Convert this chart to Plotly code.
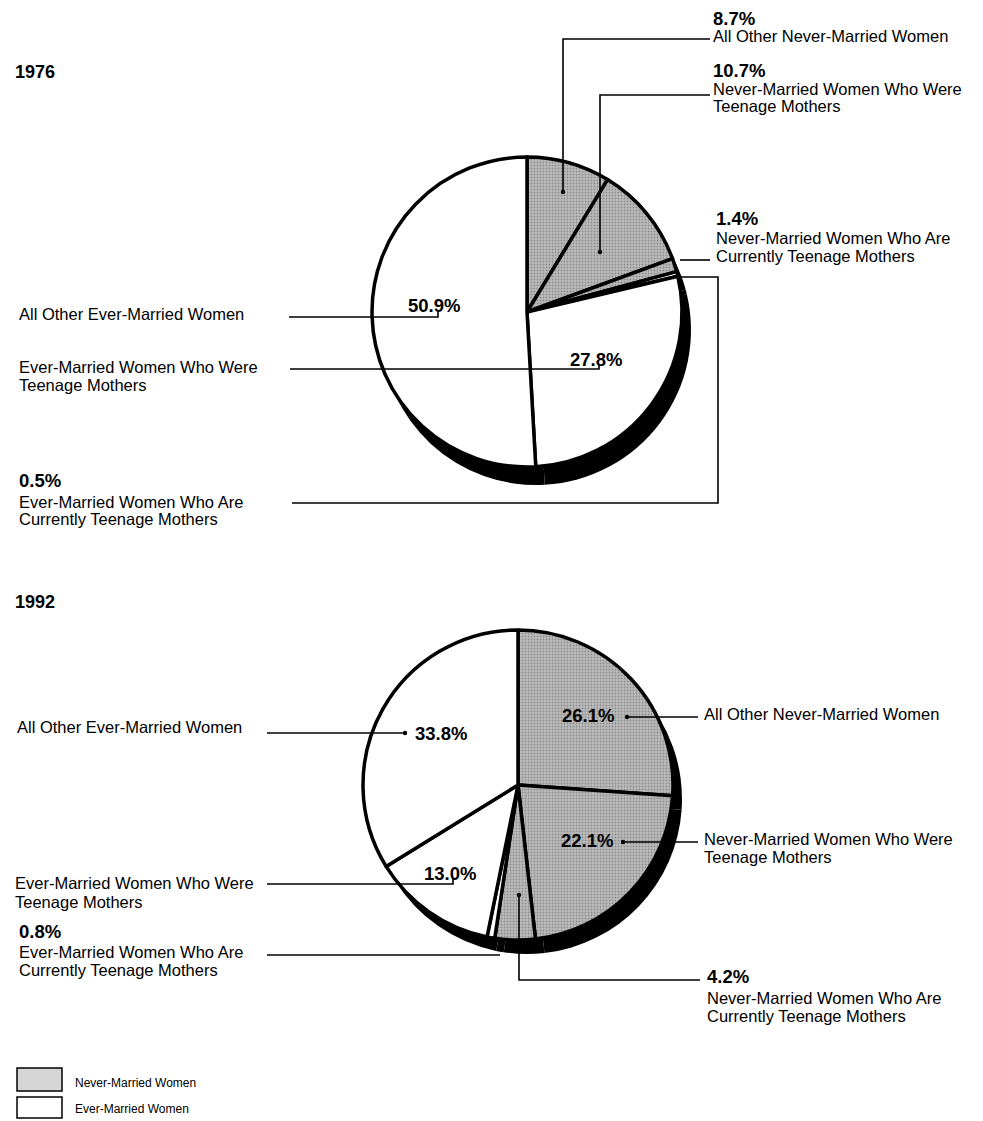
import plotly.graph_objects as go

# ---------------- data ----------------
categories = [
    "All Other Never-Married Women",
    "Never-Married Women Who Were Teenage Mothers",
    "Never-Married Women Who Are Currently Teenage Mothers",
    "Ever-Married Women Who Are Currently Teenage Mothers",
    "Ever-Married Women Who Were Teenage Mothers",
    "All Other Ever-Married Women",
]
groups = ["Never-Married Women"] * 3 + ["Ever-Married Women"] * 3
values_1976 = [8.7, 10.7, 1.4, 0.5, 27.8, 50.9]
values_1992 = [26.1, 22.1, 4.2, 0.8, 13.0, 33.8]
years = ["1976", "1992"]
legend_labels = ["Never-Married Women", "Ever-Married Women"]

OFF = 8  # page body margin
W, H = 983 - 2 * OFF, 1121 - OFF
FONT = "Liberation Sans, Arial, Helvetica, sans-serif"
GRAY = "#bcbcbc"


def px(x):
    return (x - OFF) / W


def py(y):
    return 1 - (y - OFF) / H


fill_colors = [GRAY if g == "Never-Married Women" else "white" for g in groups]
pattern_shapes = ["." if g == "Never-Married Women" else "" for g in groups]

fig = go.Figure()


def add_pie(values, cx, cy, r, sdx, sdy):
    # shadow
    fig.add_trace(go.Pie(
        labels=categories, values=values, sort=False, direction="clockwise",
        marker=dict(colors=["black"] * len(values), line=dict(width=0)),
        textinfo="none", hoverinfo="skip", showlegend=False,
        domain=dict(x=[px(cx - r + sdx), px(cx + r + sdx)],
                    y=[py(cy + r + sdy), py(cy - r + sdy)]),
    ))
    fig.add_trace(go.Pie(
        labels=categories, values=values, sort=False, direction="clockwise",
        marker=dict(colors=fill_colors, line=dict(color="black", width=3.5),
                    pattern=dict(shape=pattern_shapes, fillmode="overlay",
                                 fgcolor="#5a5a5a", size=3, solidity=0.3)),
        textinfo="none", hovertemplate="%{label}: %{value}%<extra></extra>",
        showlegend=False,
        domain=dict(x=[px(cx - r), px(cx + r)], y=[py(cy + r), py(cy - r)]),
    ))


add_pie(values_1976, 527, 312, 155, 9, 18)
add_pie(values_1992, 518, 785, 155, 9, 14)

annotations = []
shapes = []


def text(x, y, s, size=16.5, bold=False, anchor="left"):
    annotations.append(dict(
        x=px(x), y=py(y), xref="paper", yref="paper", text=s, showarrow=False,
        xanchor=anchor, yanchor="middle",
        font=dict(family=FONT, size=size, color="black",
                  weight="bold" if bold else "normal"),
    ))


def path(points, width=1.6):
    d = "M " + " L ".join(f"{px(x)} {py(y)}" for x, y in points)
    shapes.append(dict(type="path", path=d, xref="paper", yref="paper",
                       line=dict(color="black", width=width)))


def dot(x, y, r=2.2):
    shapes.append(dict(type="circle", xref="paper", yref="paper",
                       x0=px(x - r), x1=px(x + r), y0=py(y + r), y1=py(y - r),
                       fillcolor="black", line=dict(color="black", width=0)))


def pct(v):
    return f"{v:.1f}%"


def split(label):
    if label.endswith("Teenage Mothers") and "Currently" in label:
        return [label.replace(" Currently Teenage Mothers", ""), "Currently Teenage Mothers"]
    if label.endswith("Teenage Mothers"):
        return [label.replace(" Teenage Mothers", ""), "Teenage Mothers"]
    return [label]


PCT = 18.5

# ---- year titles ----
text(13, 72, years[0], size=18, bold=True)
text(13, 602, years[1], size=18, bold=True)

# ---------------- 1976 ----------------
v = values_1976
text(711, 19, pct(v[0]), PCT, True)
for i, ln in enumerate(split(categories[0])):
    text(711, 36 + 17 * i, ln)
path([(710, 39), (563, 39), (563, 192)])
dot(563, 192)

text(711, 71, pct(v[1]), PCT, True)
for i, ln in enumerate(split(categories[1])):
    text(711, 89 + 17 * i, ln)
path([(710, 95), (600, 95), (600, 252)])
dot(600, 252)

text(714, 219, pct(v[2]), PCT, True)
for i, ln in enumerate(split(categories[2])):
    text(714, 238 + 18 * i, ln)
path([(710, 260), (680, 260)])

text(17, 480, pct(v[3]), PCT, True)
for i, ln in enumerate(split(categories[3])):
    text(17, 502 + 17 * i, ln)
path([(292, 503), (718, 503), (718, 277), (680, 277)])

text(596, 360, pct(v[4]), PCT, True, anchor="center")
for i, ln in enumerate(split(categories[4])):
    text(17, 367 + 18 * i, ln)
path([(290, 369), (599, 369), (599, 364)])

text(434, 305, pct(v[5]), PCT, True, anchor="center")
text(17, 314, categories[5])
path([(289, 317), (438, 317), (438, 312)])

# ---------------- 1992 ----------------
v = values_1992
text(588, 715, pct(v[0]), PCT, True, anchor="center")
text(702, 714, categories[0])
path([(627, 717), (698, 717)])
dot(627, 717)

text(587, 840, pct(v[1]), PCT, True, anchor="center")
for i, ln in enumerate(split(categories[1])):
    text(702, 839 + 18 * i, ln)
path([(623, 842), (698, 842)])
dot(623, 842)

text(705, 976, pct(v[2]), PCT, True)
for i, ln in enumerate(split(categories[2])):
    text(705, 998 + 18 * i, ln)
path([(519, 895), (519, 980), (700, 980)])
dot(519, 895)

text(17, 931, pct(v[3]), PCT, True)
for i, ln in enumerate(split(categories[3])):
    text(17, 952 + 18 * i, ln)
path([(267, 955), (500, 955)])

text(450, 873, pct(v[4]), PCT, True, anchor="center")
for i, ln in enumerate(split(categories[4])):
    text(13, 883 + 19 * i, ln)
path([(267, 884), (453, 884), (453, 879)])

text(441, 733, pct(v[5]), PCT, True, anchor="center")
text(15, 727, categories[5])
path([(267, 733), (405, 733)])
dot(405, 733)

# ---------------- legend ----------------
shapes.append(dict(type="rect", xref="paper", yref="paper",
                   x0=px(17), x1=px(62), y0=py(1091), y1=py(1068),
                   fillcolor="#d6d6d6", line=dict(color="black", width=1.5)))
shapes.append(dict(type="rect", xref="paper", yref="paper",
                   x0=px(17), x1=px(62), y0=py(1118), y1=py(1097),
                   fillcolor="white", line=dict(color="black", width=1.5)))
text(73, 1083, legend_labels[0], size=12)
text(73, 1109, legend_labels[1], size=12)

fig.update_layout(
    width=W, height=H,
    margin=dict(l=0, r=0, t=0, b=0),
    paper_bgcolor="white", plot_bgcolor="white",
    annotations=annotations, shapes=shapes,
    showlegend=False,
)

fig.write_html("out.html")
